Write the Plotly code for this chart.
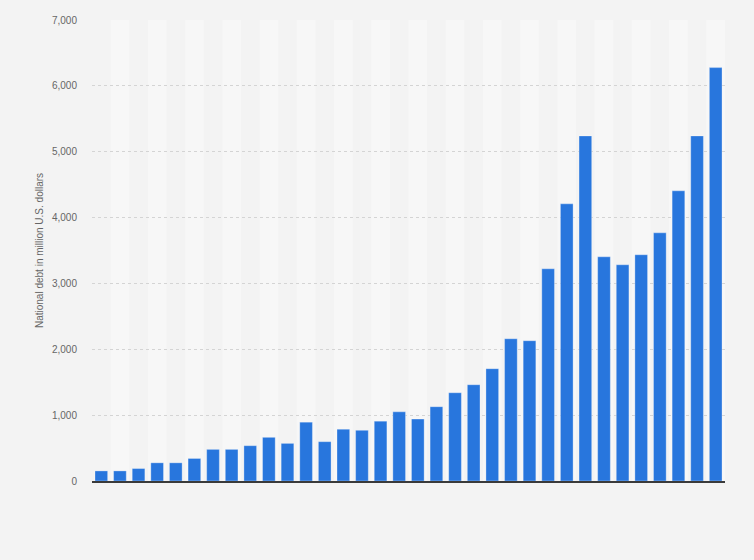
import plotly.graph_objects as go

# national debt per period, million U.S. dollars
periods = [str(i) for i in range(1, 35)]
debt = [153, 153, 189, 276, 276, 342, 480, 480, 536, 663,
        571, 893, 597, 786, 770, 908, 1050, 941, 1128, 1340,
        1462, 1705, 2160, 2130, 3222, 4208, 5240, 3404, 3283, 3435,
        3768, 4406, 5240, 6277]

y_ticks = [0, 1000, 2000, 3000, 4000, 5000, 6000, 7000]
y_labels = ["0", "1,000", "2,000", "3,000", "4,000", "5,000", "6,000", "7,000"]

bar_color = "#2876dd"
page_bg = "#f3f3f3"
band_color = "#f7f7f7"

fig = go.Figure()

fig.add_trace(go.Bar(
    x=periods,
    y=debt,
    marker=dict(color=bar_color, line=dict(color="rgba(255,255,255,0.3)", width=1)),
    hoverinfo="y",
))

# alternating column bands behind the bars
for i, p in enumerate(periods):
    if i % 2 == 1:
        fig.add_shape(type="rect", xref="x", yref="paper",
                      x0=i - 0.5, x1=i + 0.5, y0=0, y1=1,
                      fillcolor=band_color, line_width=0, layer="below")

fig.update_layout(
    width=754,
    height=560,
    paper_bgcolor=page_bg,
    plot_bgcolor=page_bg,
    font=dict(family="Liberation Sans, Arial, sans-serif", color="#666666", size=10),
    margin=dict(l=92, r=29, t=20, b=79),
    bargap=0.32,
    showlegend=False,
)

fig.update_xaxes(
    showticklabels=False,
    showgrid=False,
    showline=True,
    linecolor="#3a3a3a",
    linewidth=2,
    ticks="",
    range=[-0.5, len(periods) - 0.5],
)

fig.update_yaxes(
    range=[0, 7000],
    tickvals=y_ticks,
    ticktext=y_labels,
    showgrid=True,
    gridcolor="#d4d4d4",
    griddash="dot",
    gridwidth=1,
    zeroline=False,
    ticks="",
    ticklabelstandoff=14,
    tickfont=dict(size=10, color="#666666"),
    title=dict(text="National debt in million U.S. dollars",
               font=dict(size=10, color="#666666"), standoff=6),
)

# drop the default page margin so the chart fills the window
fig.write_html("out.html", config={"displayModeBar": False},
               post_script="document.body.style.margin='0';document.body.style.background='#f3f3f3';")
